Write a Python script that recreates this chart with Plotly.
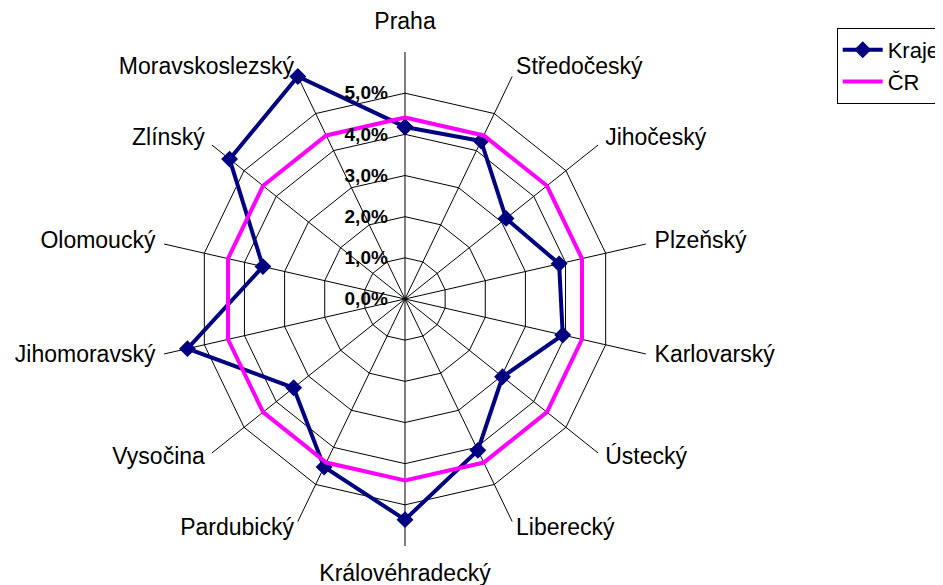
import plotly.graph_objects as go

categories = ["Praha", "Středočeský", "Jihočeský", "Plzeňský", "Karlovarský", "Ústecký",
              "Liberecký", "Královéhradecký", "Pardubický", "Vysočina", "Jihomoravský",
              "Olomoucký", "Zlínský", "Moravskoslezský"]
kraje = [0.0418, 0.0426, 0.0314, 0.0384, 0.0393, 0.0303, 0.0408, 0.0536, 0.0453,
         0.0346, 0.0542, 0.0354, 0.0545, 0.0600]
cr = [0.0441] * 14
tick_vals = [0.0, 0.01, 0.02, 0.03, 0.04, 0.05]
tick_text = ["0,0%", "1,0%", "2,0%", "3,0%", "4,0%", "5,0%"]

theta = categories + categories[:1]

W, H = 943, 585
OFF = 8  # page body margin
cx, cy = 405 - OFF, 299 - OFF
SPOKE = 0.06          # spokes reach 6 %
PX_PER_UNIT = 247 / SPOKE
RAX = 0.068           # axis range so the labels fit inside
R = RAX * PX_PER_UNIT

n = len(categories)
half = n // 2
label_pos, label_r = [], []
for i in range(n):
    if i == 0 or i == half:
        label_pos.append("middle center")
        label_r.append(276 / PX_PER_UNIT)
    elif i < half:
        label_pos.append("middle right")
        label_r.append(256 / PX_PER_UNIT)
    else:
        label_pos.append("middle left")
        label_r.append(256 / PX_PER_UNIT)

spoke_r, spoke_t = [], []
for c in categories:
    spoke_r += [0, SPOKE, None]
    spoke_t += [c, c, None]

fig = go.Figure()
fig.add_trace(go.Scatterpolar(
    r=spoke_r, theta=spoke_t, mode="lines", line=dict(color="black", width=1),
    showlegend=False, hoverinfo="skip", connectgaps=False,
))
fig.add_trace(go.Scatterpolar(
    r=kraje + kraje[:1], theta=theta, name="Kraje", mode="lines+markers",
    line=dict(color="#000080", width=4),
    marker=dict(symbol="diamond", size=13, color="#000080"),
    cliponaxis=False,
))
fig.add_trace(go.Scatterpolar(
    r=cr + cr[:1], theta=theta, name="ČR", mode="lines",
    line=dict(color="#FF00FF", width=4),
    cliponaxis=False,
))
fig.add_trace(go.Scatterpolar(
    r=label_r, theta=categories, text=categories, mode="text",
    textposition=label_pos, textfont=dict(size=23, color="black"),
    showlegend=False, hoverinfo="skip", cliponaxis=False,
))

fig.update_layout(
    width=W, height=H,
    margin=dict(l=0, r=0, t=0, b=0),
    paper_bgcolor="white",
    font=dict(family="Liberation Sans, Arial, sans-serif", color="black"),
    polar=dict(
        domain=dict(x=[(cx - R) / W, (cx + R) / W], y=[(H - cy - R) / H, (H - cy + R) / H]),
        bgcolor="rgba(0,0,0,0)",
        gridshape="linear",
        angularaxis=dict(
            direction="clockwise", rotation=90, type="category",
            categoryorder="array", categoryarray=categories,
            showline=False, showgrid=False,
            ticks="", showticklabels=False,
        ),
        radialaxis=dict(
            range=[0, RAX], angle=90, tickangle=90,
            tickvals=tick_vals, ticktext=tick_text,
            showline=False, showgrid=True, gridcolor="black", gridwidth=1,
            ticks="outside", ticklen=10, tickcolor="rgba(0,0,0,0)",
            tickfont=dict(size=19, color="black", weight="bold"),
            side="counterclockwise",
        ),
    ),
    showlegend=True,
    legend=dict(
        x=(836.7 - OFF) / W, y=1 - (28 - OFF) / H, xanchor="left", yanchor="top",
        font=dict(size=22, color="black"),
        bordercolor="black", borderwidth=1, bgcolor="white",
        itemwidth=40, tracegroupgap=0,
    ),
)

fig.write_html("out.html")
